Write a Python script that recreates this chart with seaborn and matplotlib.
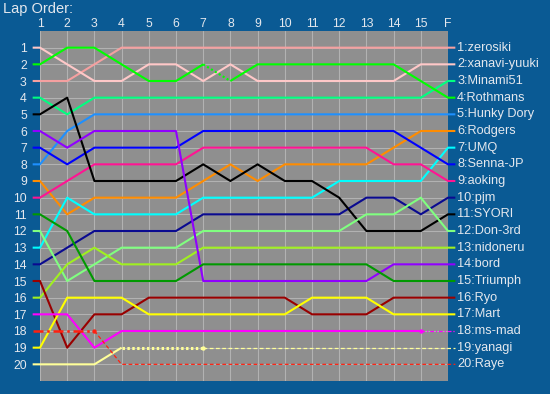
import matplotlib
matplotlib.use("Agg")
import matplotlib.pyplot as plt
import seaborn as sns
import pandas as pd

sns.set_style("white")
plt.rcParams['font.family'] = ['Liberation Sans', 'DejaVu Sans']

# ---------------- data ----------------
lap_labels = [str(i) for i in range(1, 16)] + ["F"]
drivers = ["zerosiki", "xanavi-yuuki", "Minami51", "Rothmans", "Hunky Dory",
           "Rodgers", "UMQ", "Senna-JP", "aoking", "pjm", "SYORI", "Don-3rd",
           "nidoneru", "bord", "Triumph", "Ryo", "Mart", "ms-mad", "yanagi", "Raye"]
colors = ["#f5a0a0", "#ffc8c8", "#00ff80", "#00ff00", "#1e90ff",
          "#ff8c00", "#00ffff", "#0000ff", "#ff1493", "#0a0a90", "#000000", "#80ff80",
          "#a0f020", "#9000ff", "#009900", "#990000", "#ffff00", "#ff00ff", "#ffff99", "#ff2010"]

zerosiki     = [3, 3, 2, 1, 1, 1, 1, 1, 1, 1, 1, 1, 1, 1, 1, 1]
xanavi_yuuki = [1, 2, 3, 3, 2, 2, 3, 2, 3, 3, 3, 3, 3, 3, 2, 2]
minami51     = [4, 5, 4, 4, 4, 4, 4, 4, 4, 4, 4, 4, 4, 4, 4, 3]
rothmans     = [2, 1, 1, 2, 3, 3, 2, 3, 2, 2, 2, 2, 2, 2, 3, 4]
hunky_dory   = [8, 6, 5, 5, 5, 5, 5, 5, 5, 5, 5, 5, 5, 5, 5, 5]
rodgers      = [9, 11, 10, 10, 10, 10, 9, 8, 9, 8, 8, 8, 8, 7, 6, 6]
umq          = [13, 10, 11, 11, 11, 11, 10, 10, 10, 10, 10, 9, 9, 9, 9, 7]
senna_jp     = [7, 8, 7, 7, 7, 7, 6, 6, 6, 6, 6, 6, 6, 6, 7, 8]
aoking       = [10, 9, 8, 8, 8, 8, 7, 7, 7, 7, 7, 7, 7, 8, 8, 9]
pjm          = [14, 13, 12, 12, 12, 12, 11, 11, 11, 11, 11, 11, 10, 10, 11, 10]
syori        = [5, 4, 9, 9, 9, 9, 8, 9, 8, 9, 9, 10, 12, 12, 12, 11]
don_3rd      = [12, 15, 14, 13, 13, 13, 12, 12, 12, 12, 12, 12, 11, 11, 10, 12]
nidoneru     = [16, 14, 13, 14, 14, 14, 13, 13, 13, 13, 13, 13, 13, 13, 13, 13]
bord         = [6, 7, 6, 6, 6, 6, 15, 15, 15, 15, 15, 15, 15, 14, 14, 14]
triumph      = [11, 12, 15, 15, 15, 15, 14, 14, 14, 14, 14, 14, 14, 15, 15, 15]
ryo          = [15, 19, 17, 17, 16, 16, 16, 16, 16, 16, 17, 17, 17, 16, 16, 16]
mart         = [19, 16, 16, 16, 17, 17, 17, 17, 17, 17, 16, 16, 16, 17, 17, 17]
ms_mad       = [17, 17, 19, 18, 18, 18, 18, 18, 18, 18, 18, 18, 18, 18, 18, 18]
yanagi       = [20, 20, 20, 19, 19, 19, 19, 19, 19, 19, 19, 19, 19, 19, 19, 19]
raye         = [18, 18, 18, 20, 20, 20, 20, 20, 20, 20, 20, 20, 20, 20, 20, 20]

positions = [zerosiki, xanavi_yuuki, minami51, rothmans, hunky_dory, rodgers, umq,
             senna_jp, aoking, pjm, syori, don_3rd, nidoneru, bord, triumph, ryo,
             mart, ms_mad, yanagi, raye]

# segment styles (segment k joins lap k to lap k+1; 0 = left stub, 16 = right stub)
special = {
    "Rothmans": {7: "dot"},
    "ms-mad": {15: "dashdot_thin", 16: "dashdot_thin"},
    "yanagi": {**{k: "dot_thick" for k in (4, 5, 6)}, **{k: "dash_thin" for k in range(7, 17)}},
    "Raye": {**{k: "dashdot_thick" for k in (0, 1, 2)}, **{k: "dash_thin" for k in range(3, 17)}},
}
markers = {"ms-mad": 15, "yanagi": 7, "Raye": 3}

styles = {
    "solid": dict(linestyle="-", linewidth=1.5),
    "dot": dict(linestyle=(0, (1, 1.2)), linewidth=1.5),
    "dot_thick": dict(linestyle=(0, (0.8, 0.8)), linewidth=2.2),
    "dash_thin": dict(linestyle=(0, (3, 2)), linewidth=0.9),
    "dashdot_thin": dict(linestyle=(0, (3, 1.5, 1, 1.5)), linewidth=0.9),
    "dashdot_thick": dict(linestyle=(0, (4, 1.5, 1, 1.5)), linewidth=1.8),
}

BG = "#0a5a94"
PLOT = "#8f8f8f"
TXT = "#e4e8ee"

fig = plt.figure(figsize=(5.5, 3.94), dpi=100, facecolor=BG)
ax = fig.add_axes([40 / 550, 1 - 381 / 394, 408 / 550, 350 / 394])
ax.set_facecolor(PLOT)

n = len(lap_labels)
laps = list(range(1, n + 1))
stub = 0.27
xs = [1 - stub] + laps + [n + stub]

for name, col, pos in zip(drivers, colors, positions):
    ys = [pos[0]] + pos + [pos[-1]]
    seg_style = [special.get(name, {}).get(k, "solid") for k in range(len(xs) - 1)]
    start = 0
    for k in range(1, len(seg_style) + 1):
        if k == len(seg_style) or seg_style[k] != seg_style[start]:
            df = pd.DataFrame({"lap": xs[start:k + 1], "pos": ys[start:k + 1]})
            sns.lineplot(data=df, x="lap", y="pos", color=col, ax=ax, sort=False,
                         estimator=None, clip_on=False, solid_capstyle="butt",
                         dash_capstyle="butt", **styles[seg_style[start]])
            start = k
    if name in markers:
        m = markers[name]
        df = pd.DataFrame({"lap": [m], "pos": [pos[m - 1]]})
        sns.scatterplot(data=df, x="lap", y="pos", color=col, ax=ax, s=10,
                        marker="o", linewidth=0, zorder=5)
    ax.text(n + stub + 0.07, pos[-1], f"{pos[-1]}:{name}", color=TXT, fontsize=9.2,
            va="center", ha="left", clip_on=False)

ax.set_xlim(1, n)
ax.set_ylim(21, 0)
ax.set_xticks(laps)
ax.set_xticklabels(lap_labels)
ax.set_yticks(range(1, 21))
ax.xaxis.tick_top()
ax.tick_params(axis="x", length=0, pad=1, colors=TXT, labelsize=8.8)
ax.tick_params(axis="y", length=0, pad=9.5, colors=TXT, labelsize=8.8)
ax.grid(True, color="#b2b2b2", linewidth=0.8)
ax.set_axisbelow(True)
ax.set_xlabel("")
ax.set_ylabel("")
for s in ax.spines.values():
    s.set_visible(False)

fig.text(3 / 550, 1 - 9 / 394, "Lap Order:", color=TXT, fontsize=10.5, va="center", ha="left")

fig.savefig("out.png", dpi=100, facecolor=BG)
